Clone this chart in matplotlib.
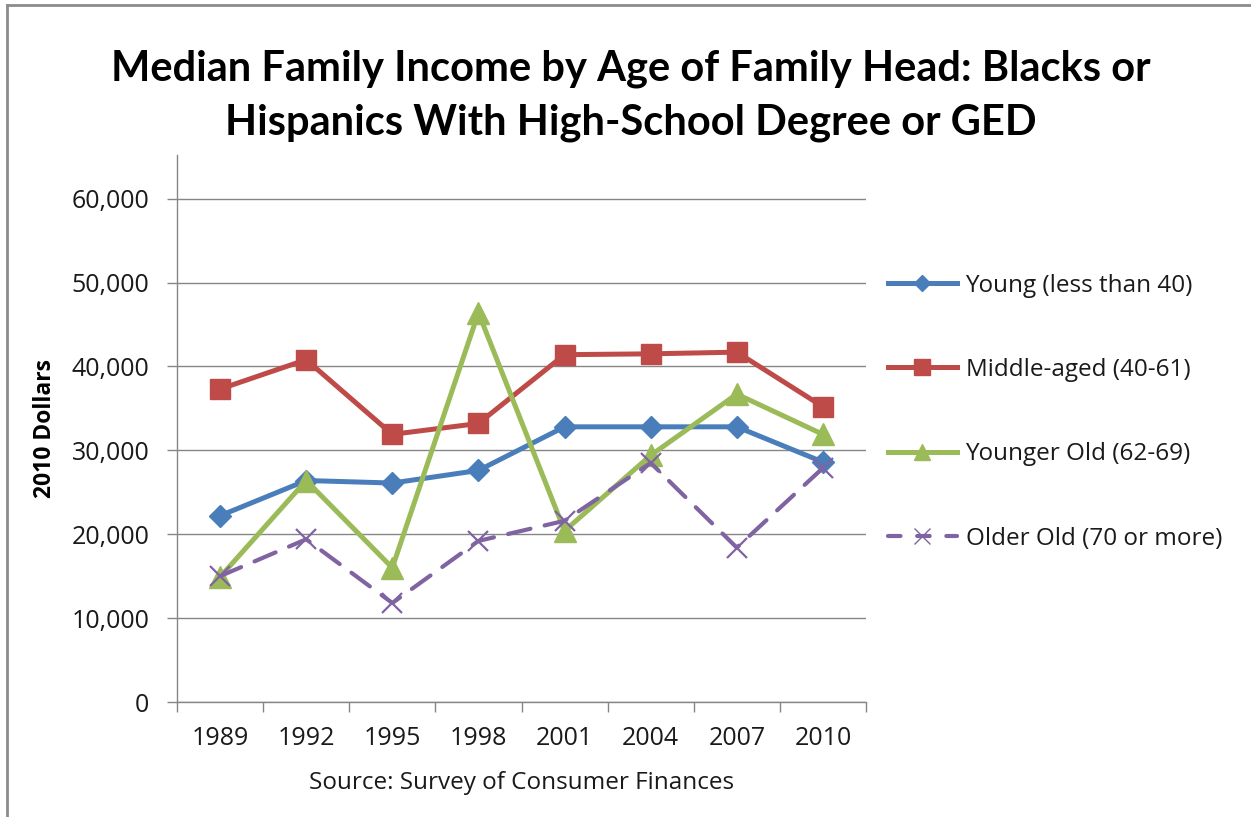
import numpy as np
import matplotlib
matplotlib.use('Agg')
import matplotlib.pyplot as plt
from matplotlib.lines import Line2D

plt.rcParams['font.family'] = ['Open Sans', 'DejaVu Sans']

# Median family income (2010 dollars), Survey of Consumer Finances
years = ['1989', '1992', '1995', '1998', '2001', '2004', '2007', '2010']
young = [22200, 26400, 26100, 27600, 32800, 32800, 32800, 28600]
middle_aged = [37300, 40800, 31900, 33200, 41400, 41500, 41700, 35200]
younger_old = [14900, 26400, 16000, 46400, 20400, 29400, 36700, 31900]
older_old = [15000, 19400, 11800, 19200, 21600, 28500, 18400, 27900]

labels = ['Young (less than 40)', 'Middle-aged (40-61)',
          'Younger Old (62-69)', 'Older Old (70 or more)']
yticks = [0, 10000, 20000, 30000, 40000, 50000, 60000]

blue = '#4A7EBB'
red = '#BE4B48'
green = '#9BBB59'
purple = '#8064A2'
grey = '#868686'
ink = '#1a1a1a'

W, H = 1251, 817
fig = plt.figure(figsize=(W / 100, H / 100), dpi=100)
ax = fig.add_axes([177 / W, 1 - 702 / H, (866 - 177) / W, (702 - 155) / H])

x = np.arange(len(years))
ax.plot(x, young, color=blue, lw=3.6, marker='D', ms=11, zorder=4)
ax.plot(x, middle_aged, color=red, lw=3.6, marker='s', ms=15, zorder=3)
ax.plot(x, younger_old, color=green, lw=3.6, marker='^', ms=16, zorder=5)
ax.plot(x, older_old, color=purple, lw=3.0, ls=(0, (5.5, 3.5)),
        dash_capstyle='round', marker='x', ms=15, mew=1.6, zorder=6)

ax.set_xlim(-0.5, len(years) - 0.5)
ax.set_ylim(0, 65200)
ax.set_yticks(yticks)
ax.set_yticklabels([f'{v:,}' for v in yticks])
ax.yaxis.grid(True, color=grey, lw=1.0)
ax.set_axisbelow(True)

# category boundaries carry the tick marks, labels sit in between
ax.set_xticks(np.arange(len(years) + 1) - 0.5)
ax.set_xticklabels([])
ax.set_xticks(x, minor=True)
ax.set_xticklabels(years, minor=True)
ax.tick_params(axis='x', which='major', length=7, width=1, color=grey)
ax.tick_params(axis='x', which='minor', length=0, pad=17, labelsize=18,
               labelcolor=ink)
ax.tick_params(axis='y', length=7, width=1, color=grey, pad=13,
               labelsize=18, labelcolor=ink)

for side in ['top', 'right']:
    ax.spines[side].set_visible(False)
for side in ['left', 'bottom']:
    ax.spines[side].set_color(grey)
    ax.spines[side].set_linewidth(1.0)

ax.set_xlabel('Source: Survey of Consumer Finances', fontsize=17.5,
              color=ink, labelpad=15)
ax.set_ylabel('2010 Dollars', fontsize=16.5, fontweight='bold', labelpad=10)

fig.text(0.504, 1 - 96 / H, 'Median Family Income by Age of Family Head: Blacks or\n'
         'Hispanics With High-School Degree or GED',
         ha='center', va='center', fontsize=30, fontweight='bold',
         family=['Lato', 'DejaVu Sans'], linespacing=1.5)

handles = [
    Line2D([], [], color=blue, lw=3.6, marker='D', ms=8),
    Line2D([], [], color=red, lw=3.6, marker='s', ms=12),
    Line2D([], [], color=green, lw=3.6, marker='^', ms=12),
    Line2D([], [], color=purple, lw=3.0, ls=(0, (3, 4)),
           dash_capstyle='round', marker='x', ms=12, mew=1.0),
]
fig.legend(handles, labels, loc='upper left',
           bbox_to_anchor=(878 / W, 1 - 264 / H), frameon=False,
           fontsize=17.5, handlelength=2.85, handletextpad=0.35,
           labelspacing=2.48, borderaxespad=0, labelcolor=ink)

# thin outer frame along the top and left edge
fig.add_artist(Line2D([7 / W, 7 / W], [0, 1 - 5 / H], color='#8c8c8c', lw=2.0))
fig.add_artist(Line2D([7 / W, 1], [1 - 5 / H, 1 - 5 / H], color='#8c8c8c', lw=2.0))

fig.savefig('out.png', dpi=100)
